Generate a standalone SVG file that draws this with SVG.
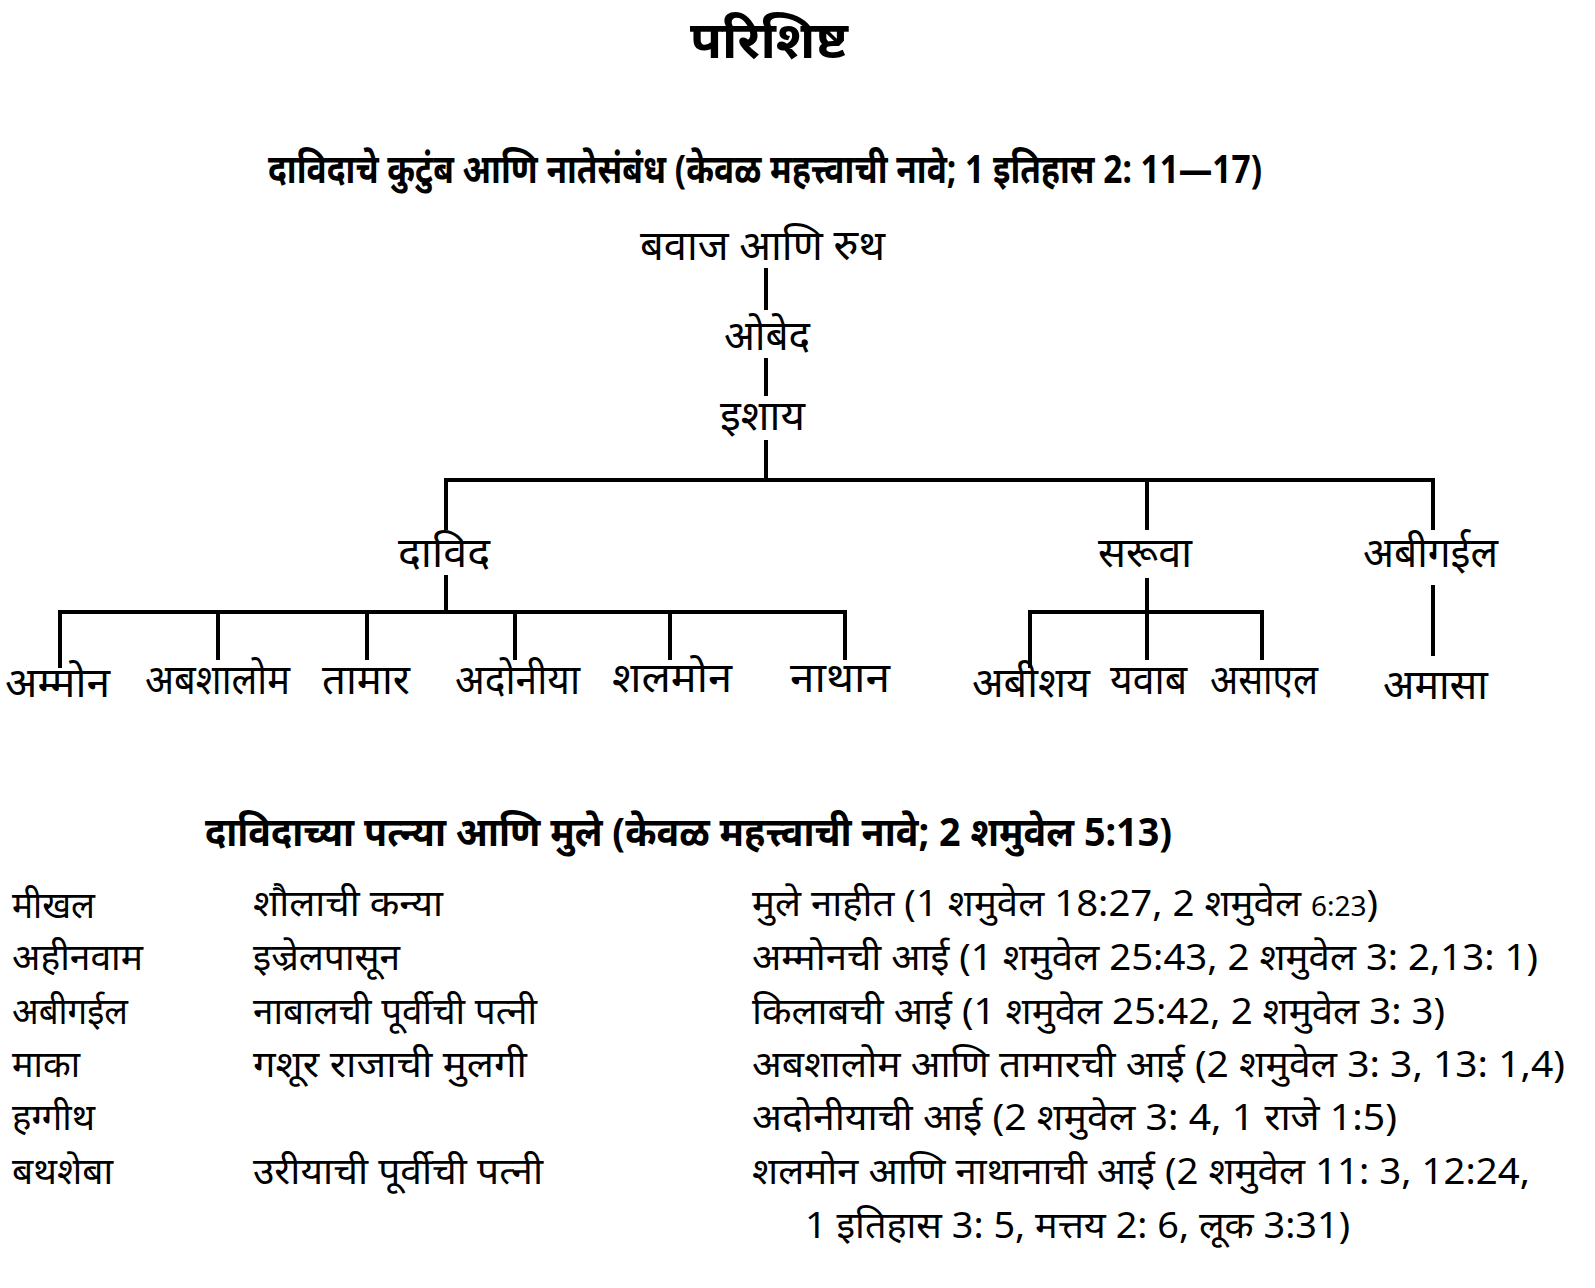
<svg xmlns="http://www.w3.org/2000/svg" width="1595" height="1288" viewBox="0 0 1595 1288">
<style>
text{font-family:"Noto Sans","DejaVu Sans",sans-serif;fill:#000}
.t{font-size:52px;font-weight:bold}
.h{font-size:40px;font-weight:bold}
.n{font-size:41px}
.r{font-size:37px}
.c line{stroke:#000;stroke-width:4}
</style>
<rect width="1595" height="1288" fill="#fff"/>
<text class="t" x="690" y="58" textLength="158" lengthAdjust="spacingAndGlyphs">परिशिष्ट</text>
<text class="h" x="268" y="183" textLength="994" lengthAdjust="spacingAndGlyphs">दाविदाचे कुटुंब आणि नातेसंबंध (केवळ महत्त्वाची नावे; 1 इतिहास 2: 11—17)</text>
<g class="c">
<line x1="766" y1="268" x2="766" y2="310"/>
<line x1="766" y1="358" x2="766" y2="396"/>
<line x1="766" y1="440" x2="766" y2="480"/>
<line x1="444" y1="480" x2="1435" y2="480"/>
<line x1="446" y1="478" x2="446" y2="530"/>
<line x1="1147" y1="478" x2="1147" y2="530"/>
<line x1="1433" y1="478" x2="1433" y2="530"/>
<line x1="446" y1="575" x2="446" y2="612"/>
<line x1="58" y1="612" x2="847" y2="612"/>
<line x1="60" y1="610" x2="60" y2="668"/>
<line x1="218" y1="610" x2="218" y2="660"/>
<line x1="367" y1="610" x2="367" y2="660"/>
<line x1="515" y1="610" x2="515" y2="660"/>
<line x1="670" y1="610" x2="670" y2="660"/>
<line x1="845" y1="610" x2="845" y2="660"/>
<line x1="1147" y1="578" x2="1147" y2="660"/>
<line x1="1028" y1="612" x2="1264" y2="612"/>
<line x1="1030" y1="610" x2="1030" y2="668"/>
<line x1="1262" y1="610" x2="1262" y2="660"/>
<line x1="1433" y1="585" x2="1433" y2="656"/>
</g>
<g id="n-bavaj"><text class="n" x="640" y="260" textLength="245" lengthAdjust="spacingAndGlyphs">बवाज आणि रुथ</text></g>
<g id="n-obed"><text class="n" x="724" y="350" textLength="86" lengthAdjust="spacingAndGlyphs">ओबेद</text></g>
<g id="n-ishay"><text class="n" x="720" y="430" textLength="85" lengthAdjust="spacingAndGlyphs">इशाय</text></g>
<g id="n-david"><text class="n" x="398" y="567" textLength="92" lengthAdjust="spacingAndGlyphs">दाविद</text></g>
<g id="n-saruva"><text class="n" x="1098" y="567" textLength="94" lengthAdjust="spacingAndGlyphs">सरूवा</text></g>
<g id="n-abigail"><text class="n" x="1363" y="567" textLength="135" lengthAdjust="spacingAndGlyphs">अबीगईल</text></g>
<g id="n-ammon"><text class="n" x="5" y="697" textLength="105" lengthAdjust="spacingAndGlyphs">अम्मोन</text></g>
<g id="n-abshalom"><text class="n" x="145" y="694" textLength="145" lengthAdjust="spacingAndGlyphs">अबशालोम</text></g>
<g id="n-tamar"><text class="n" x="322" y="694" textLength="88" lengthAdjust="spacingAndGlyphs">तामार</text></g>
<g id="n-adoniya"><text class="n" x="455" y="694" textLength="125" lengthAdjust="spacingAndGlyphs">अदोनीया</text></g>
<g id="n-shalmon"><text class="n" x="612" y="692" textLength="120" lengthAdjust="spacingAndGlyphs">शलमोन</text></g>
<g id="n-nathan"><text class="n" x="790" y="692" textLength="100" lengthAdjust="spacingAndGlyphs">नाथान</text></g>
<g id="n-abishay"><text class="n" x="972" y="697" textLength="118" lengthAdjust="spacingAndGlyphs">अबीशय</text></g>
<g id="n-yavab"><text class="n" x="1110" y="694" textLength="77" lengthAdjust="spacingAndGlyphs">यवाब</text></g>
<g id="n-asael"><text class="n" x="1210" y="694" textLength="108" lengthAdjust="spacingAndGlyphs">असाएल</text></g>
<g id="n-amasa"><text class="n" x="1383" y="699" textLength="105" lengthAdjust="spacingAndGlyphs">अमासा</text></g>
<text class="h" x="205" y="846" textLength="967" lengthAdjust="spacingAndGlyphs">दाविदाच्या पत्न्या आणि मुले (केवळ महत्त्वाची नावे; 2 शमुवेल 5:13)</text>
<g id="table">
<text class="r" x="12" y="918" textLength="83" lengthAdjust="spacingAndGlyphs">मीखल</text>
<text class="r" x="253" y="916" textLength="190" lengthAdjust="spacingAndGlyphs">शौलाची कन्या</text>
<text class="r" x="752" y="916" textLength="626" lengthAdjust="spacingAndGlyphs">मुले नाहीत (1 शमुवेल 18:27, 2 शमुवेल <tspan font-size="27">6:23</tspan>)</text>
<text class="r" x="12" y="970" textLength="131" lengthAdjust="spacingAndGlyphs">अहीनवाम</text>
<text class="r" x="253" y="970" textLength="147" lengthAdjust="spacingAndGlyphs">इज्रेलपासून</text>
<text class="r" x="752" y="970" textLength="786" lengthAdjust="spacingAndGlyphs">अम्मोनची आई (1 शमुवेल 25:43, 2 शमुवेल 3: 2,13: 1)</text>
<text class="r" x="12" y="1024" textLength="116" lengthAdjust="spacingAndGlyphs">अबीगईल</text>
<text class="r" x="253" y="1024" textLength="284" lengthAdjust="spacingAndGlyphs">नाबालची पूर्वीची पत्नी</text>
<text class="r" x="752" y="1024" textLength="693" lengthAdjust="spacingAndGlyphs">किलाबची आई (1 शमुवेल 25:42, 2 शमुवेल 3: 3)</text>
<text class="r" x="12" y="1077" textLength="68" lengthAdjust="spacingAndGlyphs">माका</text>
<text class="r" x="253" y="1077" textLength="274" lengthAdjust="spacingAndGlyphs">गशूर राजाची मुलगी</text>
<text class="r" x="752" y="1077" textLength="813" lengthAdjust="spacingAndGlyphs">अबशालोम आणि तामारची आई (2 शमुवेल 3: 3, 13: 1,4)</text>
<text class="r" x="12" y="1130" textLength="83" lengthAdjust="spacingAndGlyphs">हग्गीथ</text>
<text class="r" x="752" y="1130" textLength="645" lengthAdjust="spacingAndGlyphs">अदोनीयाची आई (2 शमुवेल 3: 4, 1 राजे 1:5)</text>
<text class="r" x="12" y="1184" textLength="101" lengthAdjust="spacingAndGlyphs">बथशेबा</text>
<text class="r" x="253" y="1184" textLength="290" lengthAdjust="spacingAndGlyphs">उरीयाची पूर्वीची पत्नी</text>
<text class="r" x="752" y="1184" textLength="778" lengthAdjust="spacingAndGlyphs">शलमोन आणि नाथानाची आई (2 शमुवेल 11: 3, 12:24,</text>
<text class="r" x="805" y="1238" textLength="545" lengthAdjust="spacingAndGlyphs">1 इतिहास 3: 5, मत्तय 2: 6, लूक 3:31)</text>
</g>
</svg>
